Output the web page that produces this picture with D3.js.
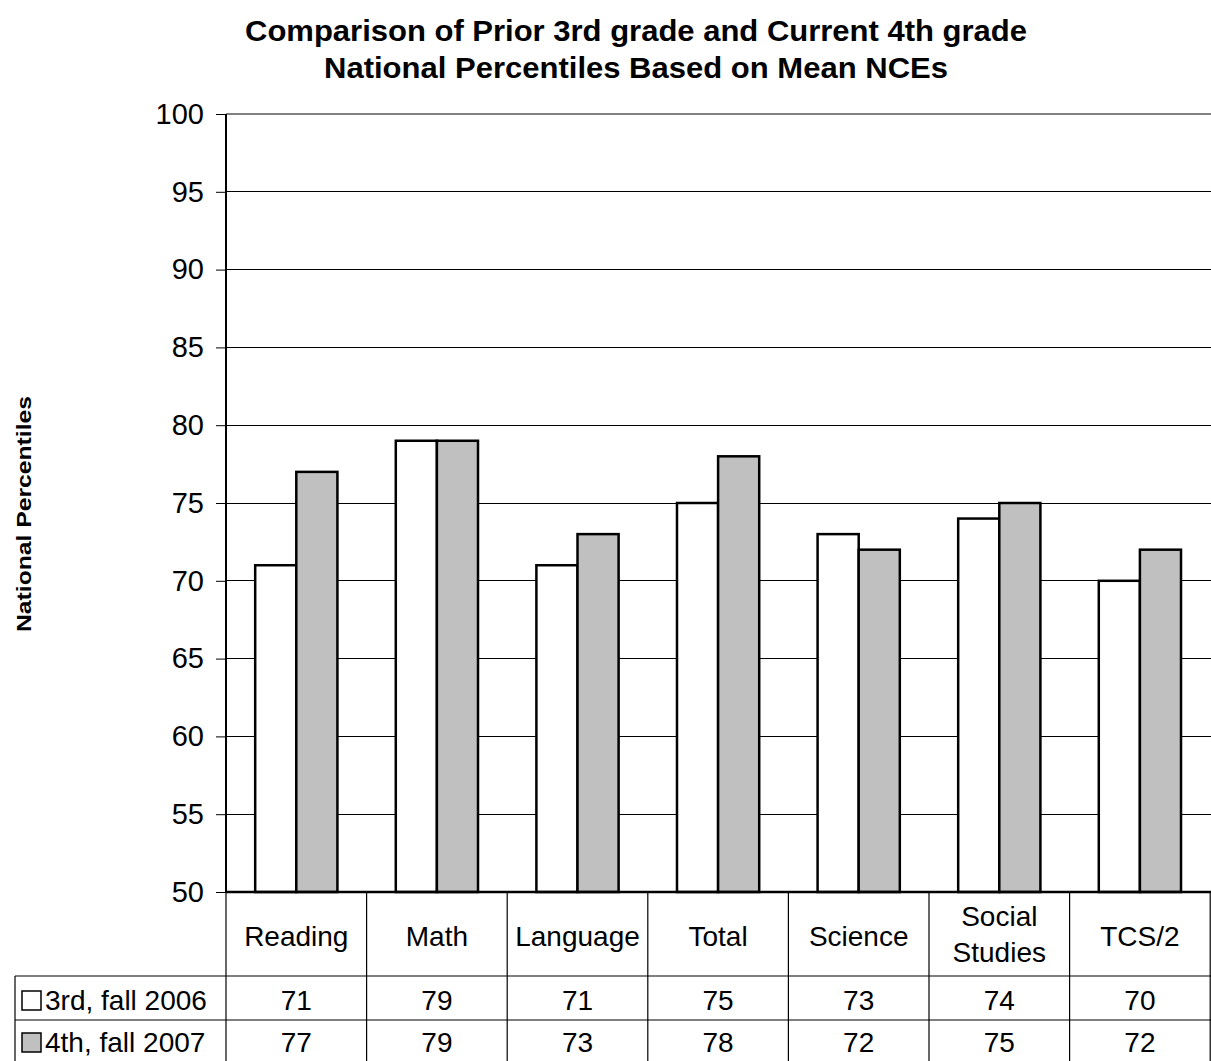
<!DOCTYPE html>
<html><head><meta charset="utf-8">
<script src="https://cdn.jsdelivr.net/npm/d3@7"></script>
<style>body{margin:0;background:#fff;}svg{display:block;font-family:"Liberation Sans",Arial,sans-serif;}</style>
</head><body><svg id="c" width="1211" height="1061"></svg>
<script>
const categories = ["Reading","Math","Language","Total","Science","Social Studies","TCS/2"];
const seriesNames = ["3rd, fall 2006","4th, fall 2007"];
const grade3 = [71,79,71,75,73,74,70];
const grade4 = [77,79,73,78,72,75,72];
const yTicks = [50,55,60,65,70,75,80,85,90,95,100];
const titleLines = ["Comparison of Prior 3rd grade and Current 4th grade","National Percentiles Based on Mean NCEs"];
const yLabel = "National Percentiles";

const svg = d3.select("#c");
const L = 226, R = 1211, T = 114, B = 892;
const fills = ["#ffffff","#c0c0c0"];
const series = [grade3, grade4];

const x = d3.scaleBand().domain(categories).range([L, L + 140.6*7]).paddingInner(0).paddingOuter(0);
const xs = d3.scaleBand().domain([0,1]).range([0, x.bandwidth()]).paddingInner(0).paddingOuter(0.71);
const y = d3.scaleLinear().domain([50,100]).range([B, T]);

// gridlines
svg.append("g").selectAll("line").data(yTicks.filter(d=>d>50)).join("line")
  .attr("x1", L).attr("x2", R).attr("y1", d=>y(d)).attr("y2", d=>y(d))
  .attr("stroke", d=>d===100?"#808080":"#000").attr("stroke-width", d=>d===100?2:1)
  .attr("shape-rendering","crispEdges");

// bars
series.forEach((s,si)=>{
  svg.append("g").selectAll("rect").data(categories).join("rect")
    .attr("x", (c)=>x(c)+xs(si))
    .attr("y", (c,i)=>y(s[i]))
    .attr("width", xs.bandwidth())
    .attr("height", (c,i)=>B - y(s[i]))
    .attr("fill", fills[si]).attr("stroke","#000").attr("stroke-width",2.5);
});

// y axis
const yAxis = d3.axisLeft(y).tickValues(yTicks).tickSize(10).tickPadding(12);
const ga = svg.append("g").attr("transform",`translate(${L},0)`).call(yAxis);
ga.select(".domain").attr("stroke","#000").attr("stroke-width",2).attr("d",`M0,${T}V${B}`);
ga.selectAll(".tick line").attr("stroke","#000");
ga.selectAll(".tick text").attr("font-size",29).attr("fill","#000")
  .attr("font-family","Liberation Sans, Arial, sans-serif");

// x baseline
svg.append("line").attr("x1",L).attr("x2",R).attr("y1",B).attr("y2",B).attr("stroke","#000").attr("stroke-width",2.5);

// data table
const rowTop = 976, rowMid = 1020, tableBottom = 1061;
const tg = svg.append("g").attr("stroke","#000").attr("stroke-width",1.2);
const bounds = categories.map(c=>x(c)).concat([x(categories[categories.length-1])+x.bandwidth()]);
tg.selectAll("line.v").data(bounds).join("line")
  .attr("x1",d=>d).attr("x2",d=>d).attr("y1",B).attr("y2",tableBottom);
tg.append("line").attr("x1",15).attr("x2",R).attr("y1",rowTop).attr("y2",rowTop);
tg.append("line").attr("x1",15).attr("x2",R).attr("y1",rowMid).attr("y2",rowMid);
tg.append("line").attr("x1",15).attr("x2",15).attr("y1",rowTop).attr("y2",tableBottom);

// category labels
const cl = svg.append("g").attr("font-size",28).attr("text-anchor","middle").attr("fill","#000");
categories.forEach(c=>{
  const words = c.split(" ");
  const cx = x(c)+x.bandwidth()/2;
  if(words.length===1){
    cl.append("text").attr("x",cx).attr("y",946).text(c);
  } else {
    cl.append("text").attr("x",cx).attr("y",926).text(words[0]);
    cl.append("text").attr("x",cx).attr("y",962).text(words[1]);
  }
});

// values
const rowsY = [1010, 1052];
series.forEach((s,si)=>{
  svg.append("g").selectAll("text").data(categories).join("text")
    .attr("x",c=>x(c)+x.bandwidth()/2).attr("y",rowsY[si])
    .attr("text-anchor","middle").attr("font-size",28).text((c,i)=>s[i]);
  svg.append("rect").attr("x",22).attr("y",rowsY[si]-19).attr("width",19).attr("height",19)
    .attr("fill",fills[si]).attr("stroke","#000").attr("stroke-width",1.5);
  svg.append("text").attr("x",45).attr("y",rowsY[si]).attr("font-size",28).text(seriesNames[si]);
});

// title
titleLines.forEach((t,i)=>{
  svg.append("text").attr("x",636).attr("y",[41,78][i]).attr("text-anchor","middle")
    .attr("font-size",29).attr("font-weight","bold")
    .attr("textLength",[782,624][i]).attr("lengthAdjust","spacingAndGlyphs").text(t);
});

// y label
svg.append("text").attr("transform","translate(31,514) rotate(-90)").attr("text-anchor","middle")
  .attr("font-size",21).attr("font-weight","bold")
  .attr("textLength",236).attr("lengthAdjust","spacingAndGlyphs").text(yLabel);
</script></body></html>
